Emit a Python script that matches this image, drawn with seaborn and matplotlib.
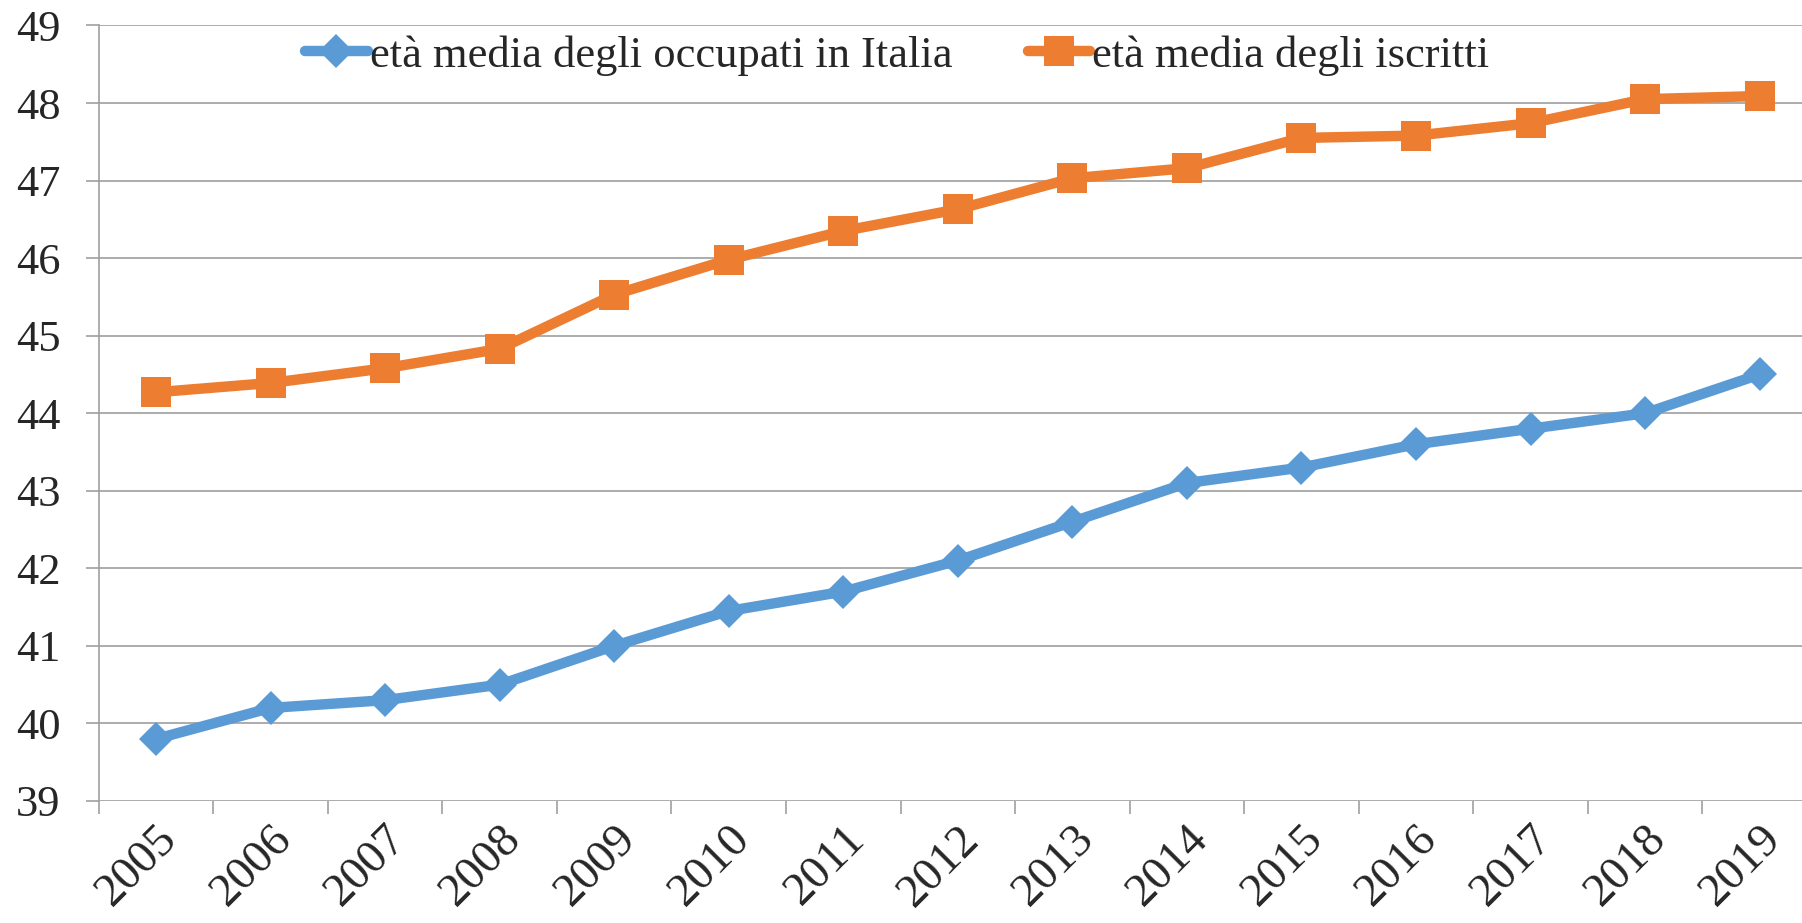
import numpy as np
import pandas as pd
import matplotlib
matplotlib.use('Agg')
import matplotlib.pyplot as plt
from matplotlib.ticker import FixedLocator
from matplotlib.transforms import ScaledTranslation
import seaborn as sns

years = ['2005', '2006', '2007', '2008', '2009', '2010', '2011', '2012',
         '2013', '2014', '2015', '2016', '2017', '2018', '2019']
occupati = [39.8, 40.2, 40.3, 40.5, 41.0, 41.45, 41.7, 42.1,
            42.6, 43.1, 43.3, 43.6, 43.8, 44.0, 44.5]
iscritti = [44.27, 44.39, 44.58, 44.83, 45.53, 45.98, 46.35, 46.63,
            47.03, 47.16, 47.55, 47.58, 47.74, 48.05, 48.09]
label_occ = 'età media degli occupati in Italia'
label_isc = 'età media degli iscritti'
y_ticks = list(range(39, 50))

sns.set_style('white')
plt.rcParams['font.family'] = ['Liberation Serif', 'DejaVu Serif']

pos = np.arange(len(years))
df = pd.DataFrame({'pos': pos, 'occ': occupati, 'isc': iscritti})

fig = plt.figure(figsize=(18.02, 9.23), dpi=100)
ax = fig.add_axes([0.0548, 0.1322, 1 - 0.0548, 0.9724 - 0.1322])

blue = '#5B9BD5'
orange = '#ED7D31'

sns.lineplot(data=df, x='pos', y='occ', color=blue, linewidth=7.5,
             marker='D', markersize=17, markeredgewidth=0,
             label=label_occ, ax=ax, legend=False)
sns.lineplot(data=df, x='pos', y='isc', color=orange, linewidth=7.5,
             marker='s', markersize=21, markeredgewidth=0,
             label=label_isc, ax=ax, legend=False)

ax.set_ylim(39, 49)
ax.set_yticks(y_ticks)
ax.set_xlim(-0.5, 14.37)

# category labels at centres, tick marks on the boundaries
ax.set_xticks(pos)
ax.set_xticklabels(years, rotation=45, ha='right', va='top',
                   rotation_mode='anchor')
offset = ScaledTranslation(0.08, 0, fig.dpi_scale_trans)
for lab in ax.get_xticklabels():
    lab.set_transform(lab.get_transform() + offset)
ax.xaxis.set_minor_locator(FixedLocator(np.arange(-0.5, len(years), 1.0)))
ax.tick_params(axis='x', which='major', length=0, pad=12, labelsize=34)
ax.tick_params(axis='x', which='minor', length=9.5, width=1.2,
               color='#A0A0A0', direction='out', bottom=True)
ax.tick_params(axis='y', length=9.5, width=1.2, color='#A0A0A0',
               direction='out', left=True, labelsize=32, pad=18)

ax.set_xlabel('')
ax.set_ylabel('')

ax.grid(axis='y', color='#A6A6A6', linewidth=1.3)
ax.grid(axis='x', visible=False)
ax.set_axisbelow(True)

for s in ['top', 'right', 'bottom']:
    ax.spines[s].set_visible(False)
ax.spines['left'].set_color('#A0A0A0')
ax.spines['left'].set_linewidth(1.2)

handles, labels = ax.get_legend_handles_labels()
fig.legend(handles, labels, loc='center', bbox_to_anchor=(0.498, 0.94),
           ncol=2, frameon=False, fontsize=32, handlelength=1.4,
           handletextpad=0.05, columnspacing=1.7)

fig.savefig('out.png', dpi=100)
